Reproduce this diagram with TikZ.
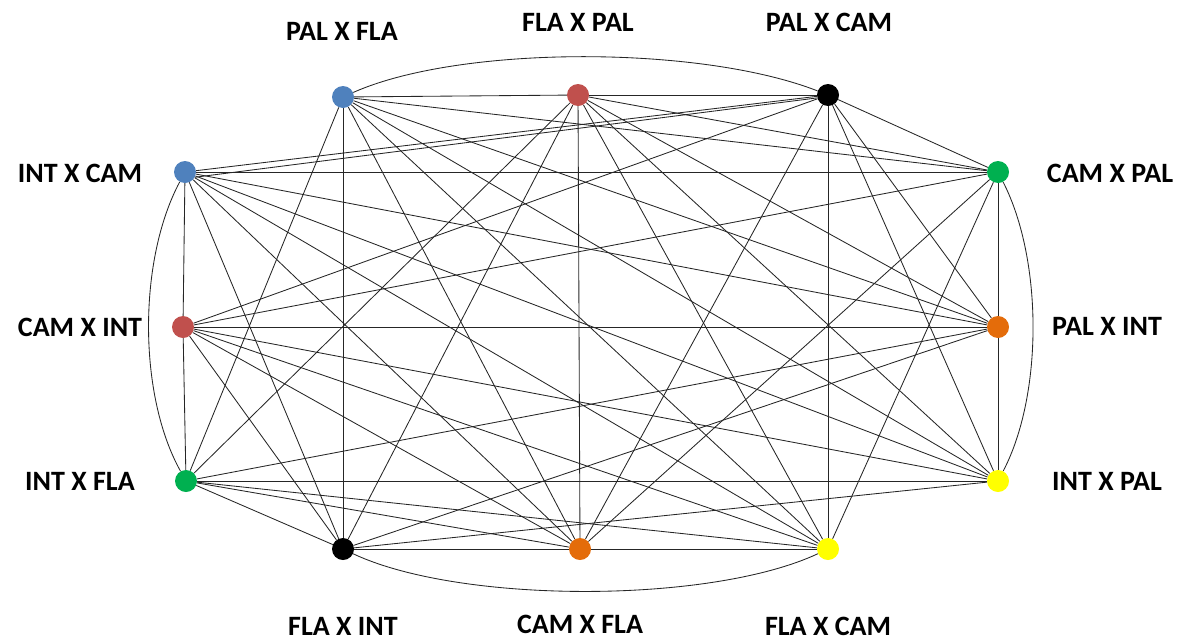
\documentclass[tikz,border=0pt]{standalone}
\usepackage{fontspec}
\setmainfont{Carlito}
\usetikzlibrary{backgrounds}
\definecolor{cblue}{HTML}{4F81BD}
\definecolor{cred}{HTML}{C0504D}
\definecolor{cgreen}{HTML}{00B050}
\definecolor{corange}{HTML}{E46C0A}
\definecolor{cyellow}{HTML}{FFFF00}
\begin{document}
\begin{tikzpicture}[x=1pt,y=-1pt,
  dot/.style={circle,inner sep=0pt,minimum size=22pt,fill=#1},
  lbl/.style={font=\bfseries\fontsize{28}{32}\selectfont,inner sep=0pt},
  edge/.style={draw=black!85,line width=0.85pt}]
\useasboundingbox (0,0) rectangle (1204,643);
% nodes
\node[dot=cblue]   (A) at (343,97)  {};
\node[dot=cred]    (B) at (578,95)  {};
\node[dot=black]   (C) at (828,95)  {};
\node[dot=cgreen]  (D) at (998,172) {};
\node[dot=corange] (E) at (998,327) {};
\node[dot=cyellow] (F) at (998,481) {};
\node[dot=cyellow] (G) at (828,549) {};
\node[dot=corange] (H) at (580,549) {};
\node[dot=black]   (I) at (343,549) {};
\node[dot=cgreen]  (J) at (186,481) {};
\node[dot=cred]    (K) at (183,327) {};
\node[dot=cblue]   (L) at (185,172) {};
% labels
\node[lbl] (tA) at (342,31)  {PAL X FLA};
\node[lbl] (tB) at (578,22)  {FLA X PAL};
\node[lbl] (tC) at (829,22)  {PAL X CAM};
\node[lbl] (tD) at (1110,173) {CAM X PAL};
\node[lbl] (tE) at (1107,326) {PAL X INT};
\node[lbl] (tF) at (1107,481) {INT X PAL};
\node[lbl] (tG) at (828,626) {FLA X CAM};
\node[lbl] (tH) at (580,624) {CAM X FLA};
\node[lbl] (tI) at (343,626) {FLA X INT};
\node[lbl] (tJ) at (80,481)  {INT X FLA};
\node[lbl] (tK) at (80,327)  {CAM X INT};
\node[lbl] (tL) at (80,173)  {INT X CAM};
% edges
\begin{scope}[on background layer]
\foreach \u/\v in {A/B,A/D,A/E,A/F,A/G,A/H,A/I,A/J,
  B/C,B/D,B/E,B/F,B/G,B/H,B/I,B/J,
  C/D,C/E,C/F,C/G,C/H,C/K,C/L,
  D/E,D/G,D/H,D/K,D/L,
  E/F,E/I,E/J,E/K,E/L,
  F/I,F/J,F/K,F/L,
  G/H,G/J,G/K,G/L,
  H/I,H/J,H/K,H/L,
  I/J,I/K,I/L,
  J/K,K/L}
  \draw[edge] (\u) -- (\v);
\draw[edge] (L.-28) -- (C.195);
\draw[edge] (A) .. controls (460,45) and (700,45) .. (C);
\draw[edge] (D) .. controls (1043,260) and (1043,395) .. (F);
\draw[edge] (I) .. controls (460,604) and (710,604) .. (G);
\draw[edge] (L) .. controls (138,260) and (138,395) .. (J);
\end{scope}
\end{tikzpicture}
\end{document}
